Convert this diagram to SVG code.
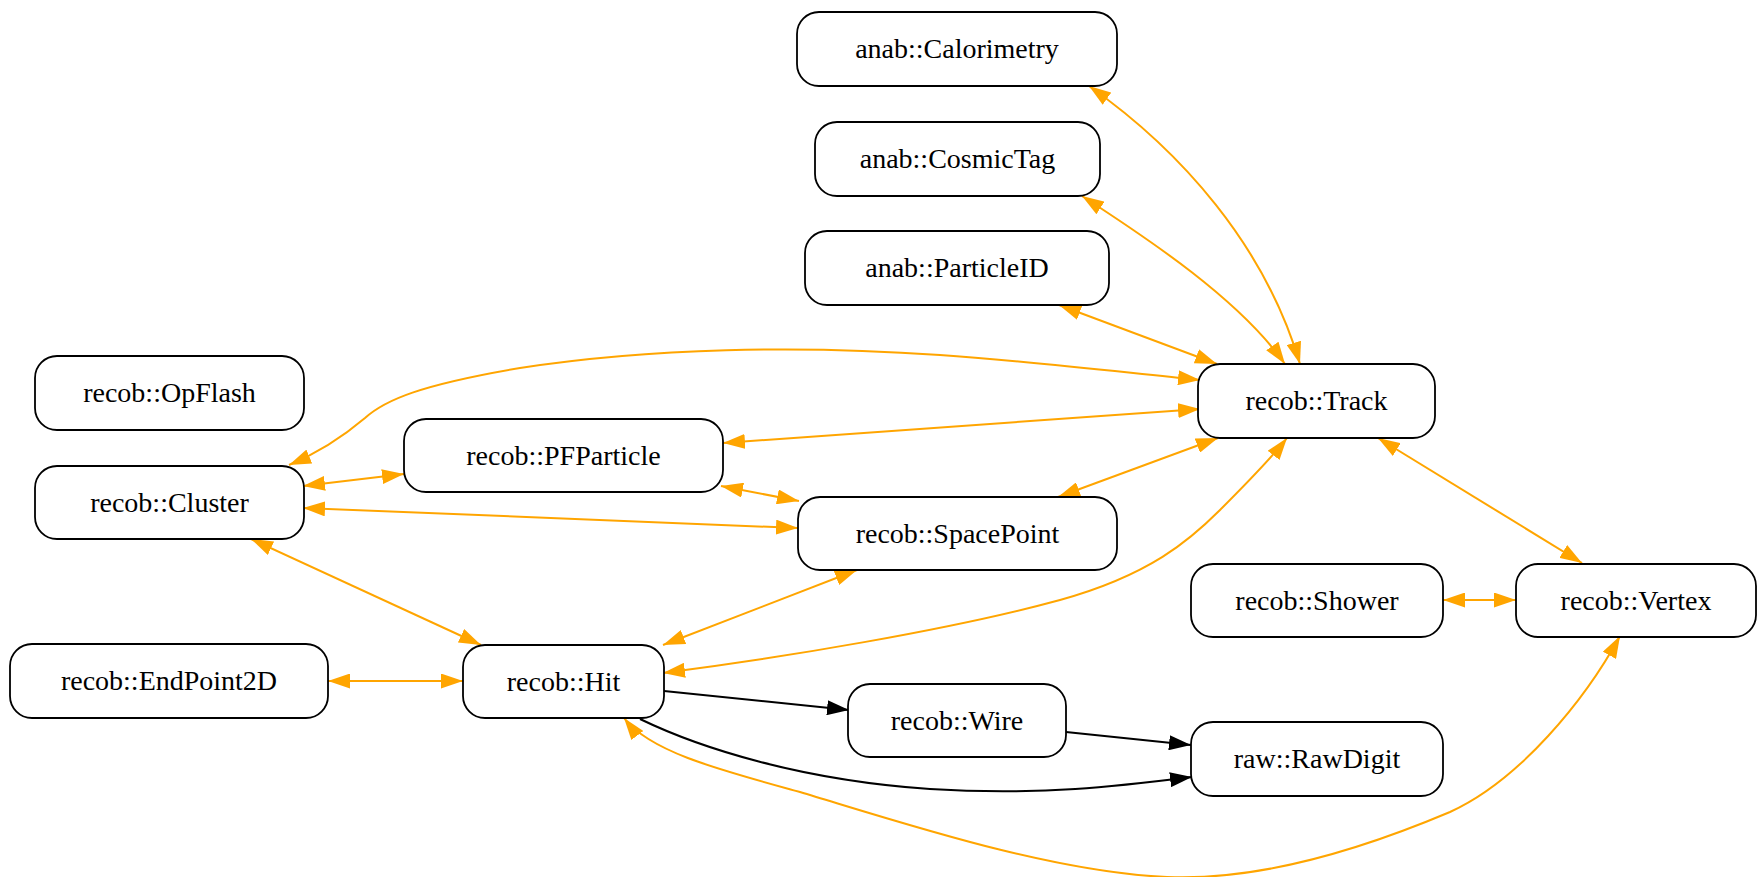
<svg xmlns="http://www.w3.org/2000/svg" width="1757" height="877" viewBox="0 0 1757 877">
<style>
.node rect{fill:#fff;stroke:#000;stroke-width:1.8}
.node text{font-family:"Liberation Serif","Times New Roman",serif;font-size:28px;text-anchor:middle;fill:#000}
.o{fill:none;stroke:#FFA500;stroke-width:2;marker-start:url(#ao);marker-end:url(#ao)}
.k{fill:none;stroke:#000;stroke-width:2;marker-end:url(#ak)}
</style>
<defs>
<marker id="ao" markerUnits="userSpaceOnUse" markerWidth="22" markerHeight="15" refX="22" refY="7.5" orient="auto-start-reverse" viewBox="0 0 22 15"><path d="M0,0 L22,7.5 L0,15 z" fill="#FFA500"/></marker>
<marker id="ak" markerUnits="userSpaceOnUse" markerWidth="22" markerHeight="15" refX="22" refY="7.5" orient="auto" viewBox="0 0 22 15"><path d="M0,0 L22,7.5 L0,15 z" fill="#000"/></marker>
</defs>
<rect width="1757" height="877" fill="#fff"/>
<g id="edges">
<path class="o" d="M1089,86 C1180,150 1265,245 1300,364"/>
<path class="o" d="M1082,196 C1150,240 1240,300 1285,364"/>
<path class="o" d="M1059,305 L1217,364"/>
<path class="o" d="M289,465 C320,452 345,435 365,418 C385,400 420,385 520,368 C650,348 800,345 940,355 C1030,361 1120,372 1200,380"/>
<path class="o" d="M723,443 L1200,409"/>
<path class="o" d="M1058,497 L1218,438"/>
<path class="o" d="M663,673 C780,658 950,630 1060,600 C1150,575 1190,540 1220,510 C1245,485 1270,460 1287,438"/>
<path class="o" d="M1378,438 L1582,563"/>
<path class="o" d="M303,486 L404,474"/>
<path class="o" d="M303,508 L798,528"/>
<path class="o" d="M721,486 L799,501"/>
<path class="o" d="M251,539 L481,645"/>
<path class="o" d="M857,570 L663,645"/>
<path class="o" d="M328,681 L463,681"/>
<path class="o" d="M1443,600 L1516,600"/>
<path class="o" d="M624,718 C650,752 720,770 800,792 C900,822 1050,872 1167,877 C1260,881 1360,850 1450,812 C1520,780 1585,700 1620,636"/>
<path class="k" d="M664,691 L849,710"/>
<path class="k" d="M1066,732 L1191,745"/>
<path class="k" d="M640,719 C700,748 800,780 930,789 C1040,796 1120,786 1192,777"/>
</g>
<g id="calorimetry" class="node"><rect x="797" y="12" width="320" height="74" rx="22"/><text x="957" y="58">anab::Calorimetry</text></g>
<g id="cosmictag" class="node"><rect x="815" y="122" width="285" height="74" rx="22"/><text x="957.5" y="168">anab::CosmicTag</text></g>
<g id="particleid" class="node"><rect x="805" y="231" width="304" height="74" rx="22"/><text x="957" y="277">anab::ParticleID</text></g>
<g id="opflash" class="node"><rect x="35" y="356" width="269" height="74" rx="22"/><text x="169.5" y="402">recob::OpFlash</text></g>
<g id="track" class="node"><rect x="1198" y="364" width="237" height="74" rx="22"/><text x="1316.5" y="410">recob::Track</text></g>
<g id="pfparticle" class="node"><rect x="404" y="419" width="319" height="73" rx="22"/><text x="563.5" y="464.5">recob::PFParticle</text></g>
<g id="cluster" class="node"><rect x="35" y="466" width="269" height="73" rx="22"/><text x="169.5" y="511.5">recob::Cluster</text></g>
<g id="spacepoint" class="node"><rect x="798" y="497" width="319" height="73" rx="22"/><text x="957.5" y="542.5">recob::SpacePoint</text></g>
<g id="shower" class="node"><rect x="1191" y="564" width="252" height="73" rx="22"/><text x="1317" y="609.5">recob::Shower</text></g>
<g id="vertex" class="node"><rect x="1516" y="564" width="240" height="73" rx="22"/><text x="1636" y="609.5">recob::Vertex</text></g>
<g id="endpoint2d" class="node"><rect x="10" y="644" width="318" height="74" rx="22"/><text x="169" y="690">recob::EndPoint2D</text></g>
<g id="hit" class="node"><rect x="463" y="645" width="201" height="73" rx="22"/><text x="563.5" y="690.5">recob::Hit</text></g>
<g id="wire" class="node"><rect x="848" y="684" width="218" height="73" rx="22"/><text x="957" y="729.5">recob::Wire</text></g>
<g id="rawdigit" class="node"><rect x="1191" y="722" width="252" height="74" rx="22"/><text x="1317" y="768">raw::RawDigit</text></g>
</svg>
